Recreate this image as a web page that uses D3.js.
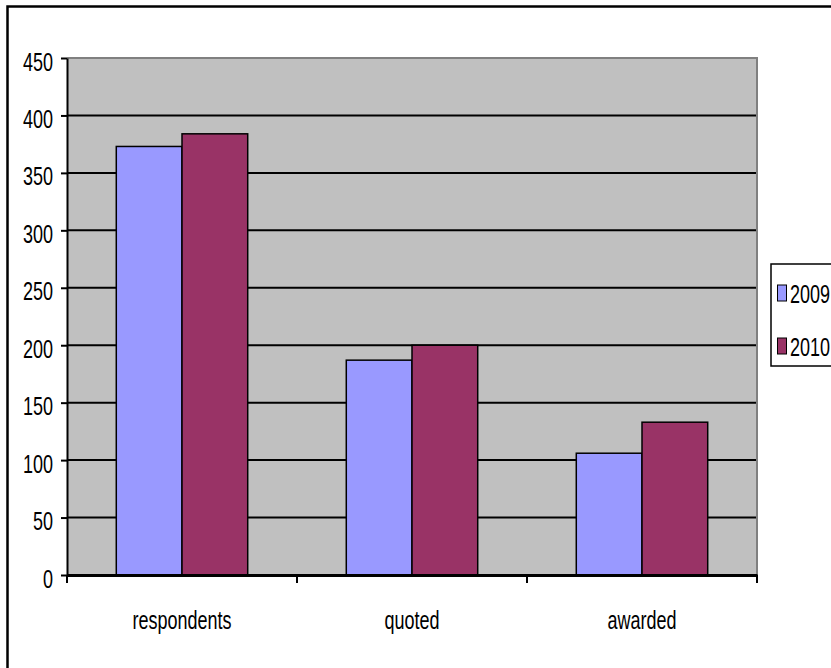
<!DOCTYPE html>
<html>
<head>
<meta charset="utf-8">
<script src="https://cdn.jsdelivr.net/npm/d3@7"></script>
<style>
  html, body { margin: 0; padding: 0; background: #ffffff; }
  svg { display: block; }
  text { font-family: "Liberation Sans", Arial, sans-serif; fill: #000; }
</style>
</head>
<body>
<svg id="chart" width="831" height="668"></svg>
<script>
const categories = ["respondents", "quoted", "awarded"];
const seriesNames = ["2009", "2010"];
const values2009 = [373, 187, 106];
const values2010 = [384, 200, 133];
const yTicks = [0, 50, 100, 150, 200, 250, 300, 350, 400, 450];
const seriesColors = ["#9999ff", "#993366"];

const seriesValues = [values2009, values2010];
const XS = 0.72; // horizontal text compression
const FS = 25;

const svg = d3.select("#chart");

// outer frame (cropped at right and bottom)
svg.append("rect")
  .attr("x", 7.5).attr("y", 6.5)
  .attr("width", 900).attr("height", 700)
  .attr("fill", "#fff").attr("stroke", "#000").attr("stroke-width", 2.5);

const plotL = 67, plotR = 757, plotT = 58, plotB = 575;

const y = d3.scaleLinear().domain([0, 450]).range([plotB, plotT]);
const x = d3.scaleBand().domain(categories).range([plotL, plotR]).paddingInner(0).paddingOuter(0);
const xs = d3.scaleBand().domain(seriesNames).range([0, x.bandwidth()]).paddingInner(0).paddingOuter(0.75);

// plot background
svg.append("rect")
  .attr("x", plotL).attr("y", plotT)
  .attr("width", plotR - plotL).attr("height", plotB - plotT)
  .attr("fill", "#c0c0c0");

// gridlines
svg.append("g").selectAll("line")
  .data(yTicks.filter(v => v > 0 && v < 450))
  .join("line")
  .attr("x1", plotL).attr("x2", plotR)
  .attr("y1", d => y(d)).attr("y2", d => y(d))
  .attr("stroke", "#000").attr("stroke-width", 2);

// plot border (top/right gray)
svg.append("path")
  .attr("d", `M${plotL},${y(450)}H${plotR}V${plotB}`)
  .attr("fill", "none").attr("stroke", "#808080").attr("stroke-width", 2);

// bars
const rows = [];
categories.forEach((c, i) => {
  seriesNames.forEach((s, j) => rows.push({ c, s, j, v: seriesValues[j][i] }));
});
svg.append("g").selectAll("rect")
  .data(rows)
  .join("rect")
  .attr("x", d => x(d.c) + xs(d.s))
  .attr("width", xs.bandwidth())
  .attr("y", d => y(d.v))
  .attr("height", d => y(0) - y(d.v))
  .attr("fill", d => seriesColors[d.j])
  .attr("stroke", "#000").attr("stroke-width", 1.5);

// y axis
const yAxis = svg.append("g")
  .attr("transform", `translate(${plotL},0)`)
  .call(d3.axisLeft(y).tickValues(yTicks).tickSize(6).tickSizeOuter(0));
yAxis.select(".domain").attr("stroke", "#000").attr("stroke-width", 2);
yAxis.selectAll(".tick line").attr("stroke", "#000").attr("stroke-width", 2);
yAxis.selectAll(".tick text")
  .attr("font-size", FS)
  .attr("font-family", "Liberation Sans, Arial, sans-serif")
  .attr("transform", `scale(${XS},1)`)
  .attr("x", -14 / XS)
  .attr("dy", "0.48em")
  .attr("text-anchor", "end");

// x axis
const xAxis = svg.append("g")
  .attr("transform", `translate(0,${plotB})`)
  .call(d3.axisBottom(x).tickSize(0).tickSizeOuter(0));
xAxis.select(".domain").attr("stroke", "#000").attr("stroke-width", 3);
xAxis.selectAll(".tick text")
  .attr("font-size", FS)
  .attr("font-family", "Liberation Sans, Arial, sans-serif")
  .attr("transform", `scale(${XS},1)`)
  .attr("y", 36)
  .attr("dy", "0.71em");

// category boundary ticks
const bounds = categories.map(c => x(c)).concat([x.range()[1]]);
xAxis.append("g").selectAll("line")
  .data(bounds)
  .join("line")
  .attr("x1", d => d).attr("x2", d => d)
  .attr("y1", 0).attr("y2", 8)
  .attr("stroke", "#000").attr("stroke-width", 2);

// legend
const lg = svg.append("g");
lg.append("rect")
  .attr("x", 771).attr("y", 264).attr("width", 120).attr("height", 102)
  .attr("fill", "#fff").attr("stroke", "#000").attr("stroke-width", 1.5);
seriesNames.forEach((s, j) => {
  const cy = 293 + j * 53;
  lg.append("rect")
    .attr("x", 777.5).attr("y", cy - 8).attr("width", 9).attr("height", 16)
    .attr("fill", seriesColors[j]).attr("stroke", "#000").attr("stroke-width", 1);
  lg.append("text")
    .attr("transform", `translate(790,${cy + 10}) scale(${XS},1)`)
    .attr("font-size", FS)
    .text(s);
});
</script>
</body>
</html>
